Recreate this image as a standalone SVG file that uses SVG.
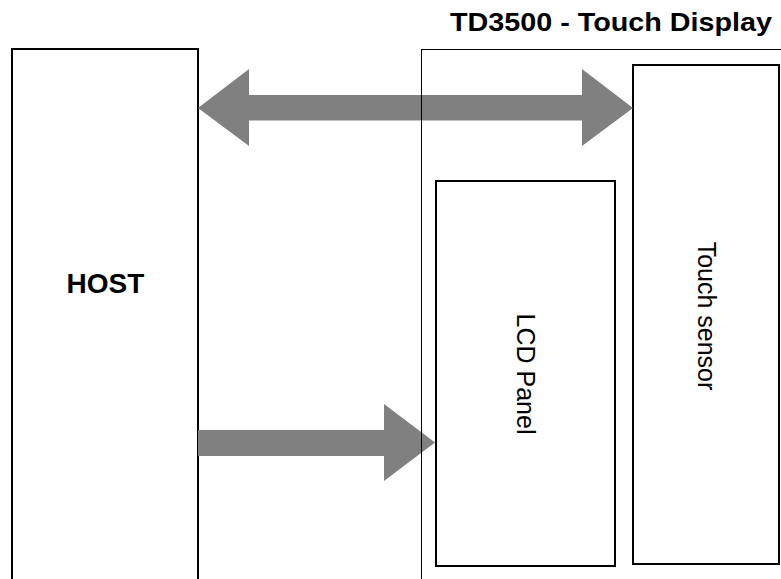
<svg xmlns="http://www.w3.org/2000/svg" width="781" height="579" viewBox="0 0 781 579">
<style>
.box{fill:#ffffff;stroke:#000000;stroke-width:2}
.frame{fill:none;stroke:#000000;stroke-width:1}
.arrow{fill:#808080;stroke:none}
.lbl{font-family:"Liberation Sans",Arial,sans-serif;fill:#000000}
</style>
<rect width="781" height="579" fill="#ffffff"/>
<g id="title">
<text class="lbl" x="772" y="31" text-anchor="end" font-size="25.5" font-weight="bold" textLength="322" lengthAdjust="spacingAndGlyphs">TD3500 - Touch Display</text>
</g>
<g id="host">
<rect class="box" x="12" y="49" width="186" height="545"/>
<text class="lbl" x="105.5" y="292.5" text-anchor="middle" font-size="28" font-weight="bold">HOST</text>
</g>
<g id="lcd-panel">
<rect class="box" x="436" y="181" width="179" height="385"/>
<text class="lbl" transform="translate(517,374) rotate(90)" text-anchor="middle" font-size="25">LCD Panel</text>
</g>
<g id="touch-sensor">
<rect class="box" x="633" y="65" width="146" height="499"/>
<text class="lbl" transform="translate(698,316) rotate(90)" text-anchor="middle" font-size="25">Touch sensor</text>
</g>
<g id="connectors">
<polygon class="arrow" points="198,108 249,69 249,95 582,95 582,69 633,108 582,146 582,120.5 249,120.5 249,146"/>
<polygon class="arrow" points="198,430 384,430 384,404 435,442.5 384,481 384,456 198,456"/>
</g>
<g id="touch-display">
<rect class="frame" x="421.5" y="49.5" width="370" height="545"/>
</g>
</svg>
